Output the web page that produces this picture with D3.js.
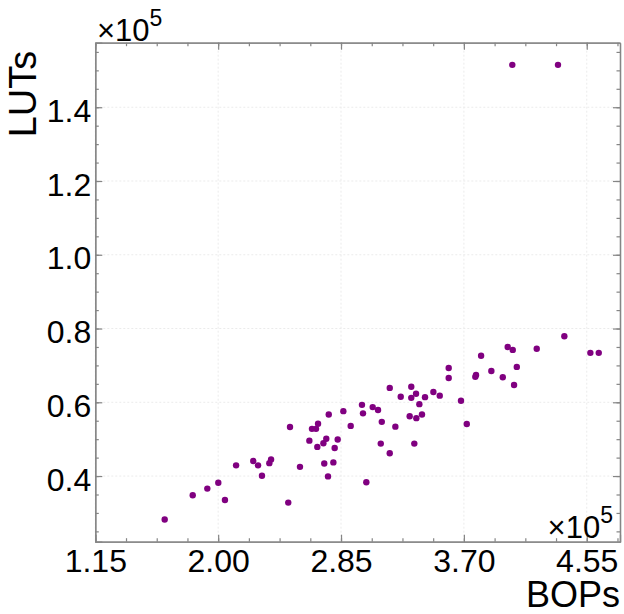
<!DOCTYPE html>
<html>
<head>
<meta charset="utf-8">
<script src="https://cdn.jsdelivr.net/npm/d3@7"></script>
<style>
body { margin: 0; background: #fff; }
text { font-family: "Liberation Sans", Arial, sans-serif; }
</style>
</head>
<body>
<script>
/**
 * Data, both axes in units of 1e5.
 */
var bops = [1.630, 1.824, 1.925, 2.001, 2.047, 2.124, 2.243, 2.276, 2.303, 2.354,
	    2.366, 2.485, 2.497, 2.566, 2.631, 2.649, 2.677, 2.691, 2.686, 2.728,
	    2.748, 2.765, 2.734, 2.797, 2.760, 2.806, 2.827, 2.866, 2.917, 2.995,
	    3.002, 3.069, 3.106, 3.025, 3.132, 3.125, 3.187, 3.187, 3.226, 3.263,
	    3.336, 3.336, 3.369, 3.392, 3.325, 3.371, 3.410, 3.357, 3.431, 3.489,
	    3.533, 3.595, 3.595, 3.680, 3.720, 3.779, 3.784, 3.819, 3.890, 3.969,
	    4.003, 4.038, 4.066, 4.047, 4.204, 4.395, 4.575, 4.633, 4.035, 4.351];
var luts = [0.282, 0.348, 0.366, 0.382, 0.335, 0.429, 0.441, 0.429, 0.401, 0.435,
	    0.445, 0.328, 0.533, 0.425, 0.496, 0.528, 0.528, 0.542, 0.479, 0.489,
	    0.501, 0.567, 0.434, 0.437, 0.399, 0.476, 0.499, 0.576, 0.536, 0.593,
	    0.570, 0.587, 0.579, 0.383, 0.547, 0.488, 0.639, 0.462, 0.534, 0.615,
	    0.642, 0.612, 0.623, 0.595, 0.562, 0.557, 0.567, 0.488, 0.614, 0.628,
	    0.618, 0.693, 0.666, 0.604, 0.541, 0.669, 0.674, 0.726, 0.685, 0.668,
	    0.750, 0.742, 0.696, 0.647, 0.745, 0.779, 0.734, 0.734, 1.515, 1.515];
var xTicks = [1.15, 2.00, 2.85, 3.70, 4.55];
var yTicks = [0.4, 0.6, 0.8, 1.0, 1.2, 1.4];
var xDomain = [1.15, 4.78];
var yDomain = [0.222, 1.575];

var W = 624, H = 614;
var m = {left: 95.3, right: 4, top: 42.7, bottom: 72.3};
var axisColor = "#858585", gridColor = "#ebebeb", dotColor = "#800080";

var svg = d3.select("body").append("svg").attr("width", W).attr("height", H);

var x = d3.scaleLinear().domain(xDomain).range([m.left, W - m.right]);
var y = d3.scaleLinear().domain(yDomain).range([H - m.bottom, m.top]);

// minor ticks: 4 steps between the major ones
function minors(ticks, lo, hi) {
    var step = (ticks[1] - ticks[0]) / 4, out = [];
    for (var v = ticks[0] - 8 * step; v <= hi + 1e-9; v += step)
	if (v >= lo - 1e-9 && v <= hi + 1e-9) out.push(+v.toFixed(5));
    return out;
}
var xMinor = minors(xTicks, xDomain[0], xDomain[1]);
var yMinor = minors(yTicks, yDomain[0], yDomain[1]);

/**
 * Dotted grid at the major ticks.
 */
var grid = svg.append("g");
grid.selectAll("line.gx").data(xTicks).enter().append("line")
    .attr("x1", function (d) { return x(d); }).attr("x2", function (d) { return x(d); })
    .attr("y1", m.top).attr("y2", H - m.bottom);
grid.selectAll("line.gy").data(yTicks).enter().append("line")
    .attr("y1", function (d) { return y(d); }).attr("y2", function (d) { return y(d); })
    .attr("x1", m.left).attr("x2", W - m.right);
grid.selectAll("line").attr("stroke", gridColor).attr("stroke-width", 1)
    .attr("stroke-dasharray", "2,2");

/**
 * Box with inward ticks on all four sides.
 */
function drawAxis(axis, tx, ty, labels) {
    var g = svg.append("g").attr("transform", "translate(" + tx + "," + ty + ")").call(axis);
    g.select(".domain").attr("stroke", axisColor).attr("stroke-width", 1.3);
    g.selectAll(".tick line").attr("stroke", axisColor).attr("stroke-width", 1.2);
    if (!labels) g.selectAll(".tick text").remove();
    return g;
}
var bottom = H - m.bottom, right = W - m.right;

var gx = drawAxis(d3.axisBottom(x).tickValues(xTicks).tickSize(-7).tickPadding(0)
		  .tickFormat(d3.format(".2f")), 0, bottom, true);
gx.selectAll(".tick text").attr("dy", null).attr("y", 30).attr("fill", "#000")
    .attr("font-size", 32).attr("font-family", "'Liberation Sans', Arial, sans-serif");
drawAxis(d3.axisBottom(x).tickValues(xMinor).tickSize(-3.5).tickSizeOuter(0), 0, bottom, false);
drawAxis(d3.axisTop(x).tickValues(xTicks).tickSize(-7).tickSizeOuter(0), 0, m.top, false);
drawAxis(d3.axisTop(x).tickValues(xMinor).tickSize(-3.5).tickSizeOuter(0), 0, m.top, false);

var gy = drawAxis(d3.axisLeft(y).tickValues(yTicks).tickSize(-7).tickPadding(3)
		  .tickFormat(d3.format(".1f")), m.left, 0, true);
gy.selectAll(".tick text").attr("dy", null).attr("y", 14).attr("x", -4).attr("fill", "#000")
    .attr("font-size", 32).attr("font-family", "'Liberation Sans', Arial, sans-serif");
drawAxis(d3.axisLeft(y).tickValues(yMinor).tickSize(-3.5).tickSizeOuter(0), m.left, 0, false);
drawAxis(d3.axisRight(y).tickValues(yTicks).tickSize(-7).tickSizeOuter(0), right, 0, false);
drawAxis(d3.axisRight(y).tickValues(yMinor).tickSize(-3.5).tickSizeOuter(0), right, 0, false);

/**
 * Points.
 */
svg.append("g").selectAll("circle").data(d3.range(bops.length)).enter().append("circle")
    .attr("cx", function (i) { return x(bops[i]); })
    .attr("cy", function (i) { return y(luts[i]); })
    .attr("r", 3.2)
    .attr("fill", dotColor);

/**
 * Axis titles and the x10^5 multipliers.
 */
svg.append("text").attr("x", right).attr("y", 607).attr("text-anchor", "end")
    .attr("font-size", 36).text("BOPs");
svg.append("text").attr("transform", "translate(36," + 94 + ") rotate(-90)")
    .attr("text-anchor", "middle").attr("font-size", 38).text("LUTs");

function exponent(xPos, base, anchor) {
    var t = svg.append("text").attr("x", xPos).attr("y", base).attr("text-anchor", anchor)
	.attr("font-size", 31);
    t.append("tspan").text("×10");
    t.append("tspan").attr("dy", -15).attr("font-size", 23).text("5");
}
exponent(97, 41, "start");
exponent(613, 538, "end");
</script>
</body>
</html>
